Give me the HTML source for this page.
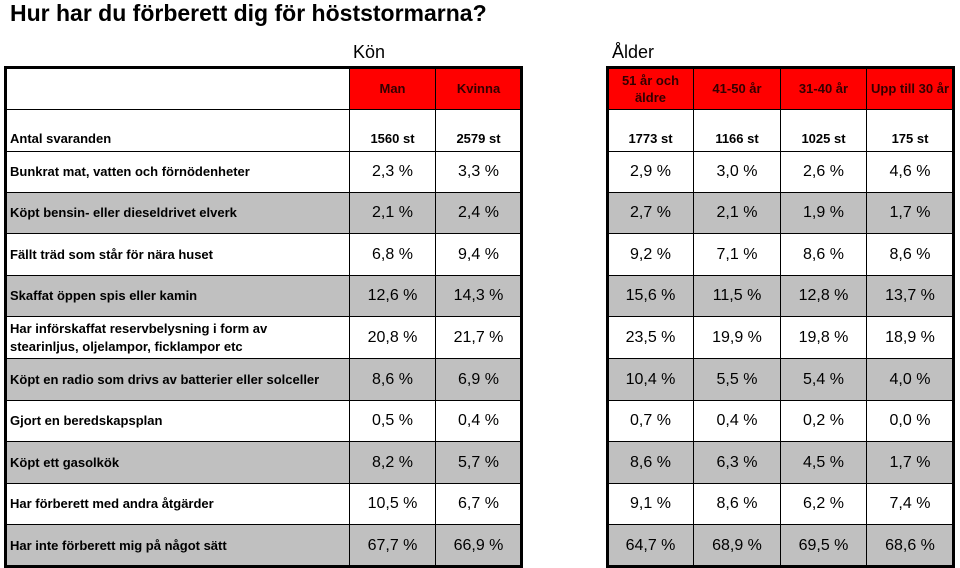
<!DOCTYPE html>
<html><head><meta charset="utf-8">
<style>
body{margin:0;width:960px;height:568px;background:#fff;position:relative;overflow:hidden;font-family:"Liberation Sans",Arial,sans-serif;color:#000}
.a{position:absolute;box-sizing:border-box}
.cell{position:absolute;box-sizing:border-box;border:1px solid #000;display:flex;align-items:center;justify-content:center;text-align:center}
.frame{position:absolute;box-sizing:border-box;border:3px solid #000;pointer-events:none}
</style></head><body>
<div class="a" style="left:10px;top:0px;font-size:23px;font-weight:bold;">Hur har du förberett dig för höststormarna?</div>
<div class="a" style="left:353px;top:42px;font-size:18px;">Kön</div>
<div class="a" style="left:612px;top:42px;font-size:18px;">Ålder</div>
<div id="root"></div>
<script>
const colsGender = ["Man","Kvinna"];
const colsAge = ["51 år och äldre","41-50 år","31-40 år","Upp till 30 år"];
const respondentsGender = ["1560 st","2579 st"];
const respondentsAge = ["1773 st","1166 st","1025 st","175 st"];
const rowLabels = ["Bunkrat mat, vatten och förnödenheter","Köpt bensin- eller dieseldrivet elverk","Fällt träd som står för nära huset","Skaffat öppen spis eller kamin","Har införskaffat reservbelysning i form av stearinljus, oljelampor, ficklampor etc","Köpt en radio som drivs av batterier eller solceller","Gjort en beredskapsplan","Köpt ett gasolkök","Har förberett med andra åtgärder","Har inte förberett mig på något sätt"];
const man = [2.3,2.1,6.8,12.6,20.8,8.6,0.5,8.2,10.5,67.7];
const kvinna = [3.3,2.4,9.4,14.3,21.7,6.9,0.4,5.7,6.7,66.9];
const age51 = [2.9,2.7,9.2,15.6,23.5,10.4,0.7,8.6,9.1,64.7];
const age41 = [3.0,2.1,7.1,11.5,19.9,5.5,0.4,6.3,8.6,68.9];
const age31 = [2.6,1.9,8.6,12.8,19.8,5.4,0.2,4.5,6.2,69.5];
const age0 = [4.6,1.7,8.6,13.7,18.9,4.0,0.0,1.7,7.4,68.6];

const root=document.getElementById('root');
const fmt=v=>v.toFixed(1).replace('.',',')+' %';
const t1x=[5,349,435,521], t2x=[607,693,780,866,953];
const rowY=[67,109,151,192,233,275,316,358,400,441,483,524,566];
function cell(x,y,w,h,txt,bg,style,name){
  const d=document.createElement('div');
  d.className='cell';
  d.style.left=x+'px';d.style.top=y+'px';d.style.width=(w+1)+'px';d.style.height=(h+1)+'px';
  d.style.background=bg;d.style.cssText+=style||'';
  
  
  d.innerHTML=txt;root.appendChild(d);return d;
}
// header
cell(t1x[0],rowY[0],t1x[1]-t1x[0],rowY[1]-rowY[0],'','#fff','','header-blank');
colsGender.forEach((c,i)=>cell(t1x[i+1],rowY[0],t1x[i+2]-t1x[i+1],rowY[1]-rowY[0],c,'#f00','font-size:13px;font-weight:bold;color:#300;','header-'+c.toLowerCase()));
colsAge.forEach((c,i)=>cell(t2x[i],rowY[0],t2x[i+1]-t2x[i],rowY[1]-rowY[0],c,'#f00','font-size:13px;font-weight:bold;color:#300;line-height:17px;padding:0 4px;white-space:'+(i==0?'normal':'nowrap'),'header-age-'+i));
// respondents
const h1=rowY[2]-rowY[1];
cell(t1x[0],rowY[1],t1x[1]-t1x[0],h1,'Antal svaranden','#fff','font-size:13px;font-weight:bold;justify-content:flex-start;align-items:flex-end;padding:0 0 5px 4px;','respondents-label');
respondentsGender.forEach((v,i)=>cell(t1x[i+1],rowY[1],t1x[i+2]-t1x[i+1],h1,v,'#fff','font-size:13px;font-weight:bold;align-items:flex-end;padding-bottom:5px;','respondents-gender-'+i));
respondentsAge.forEach((v,i)=>cell(t2x[i],rowY[1],t2x[i+1]-t2x[i],h1,v,'#fff','font-size:13px;font-weight:bold;align-items:flex-end;padding-bottom:5px;','respondents-age-'+i));
// data rows
const series1=[man,kvinna], series2=[age51,age41,age31,age0];
rowLabels.forEach((lab,r)=>{
  const y=rowY[r+2],h=rowY[r+3]-y,bg=r%2?'#c0c0c0':'#fff';
  cell(t1x[0],y,t1x[1]-t1x[0],h,lab,bg,'font-size:13px;font-weight:bold;justify-content:flex-start;text-align:left;padding:0 4px;line-height:18px;'+(r==4?'padding-right:60px;':''),'row-label-'+r);
  series1.forEach((s,i)=>cell(t1x[i+1],y,t1x[i+2]-t1x[i+1],h,fmt(s[r]),bg,'font-size:16px;','value-gender-'+i+'-'+r));
  series2.forEach((s,i)=>cell(t2x[i],y,t2x[i+1]-t2x[i],h,fmt(s[r]),bg,'font-size:16px;','value-age-'+i+'-'+r));
});
// thicker separators
function frame(x,y,w,h,name){const d=document.createElement('div');d.className='frame';d.style.left=(x-1)+'px';d.style.top=(y-1)+'px';d.style.width=(w+3)+'px';d.style.height=(h+3)+'px';


root.appendChild(d);}
frame(t1x[0],rowY[0],t1x[3]-t1x[0],rowY[12]-rowY[0],'gender-table-border');
frame(t2x[0],rowY[0],t2x[4]-t2x[0],rowY[12]-rowY[0],'age-table-border');
</script>
</body></html>
